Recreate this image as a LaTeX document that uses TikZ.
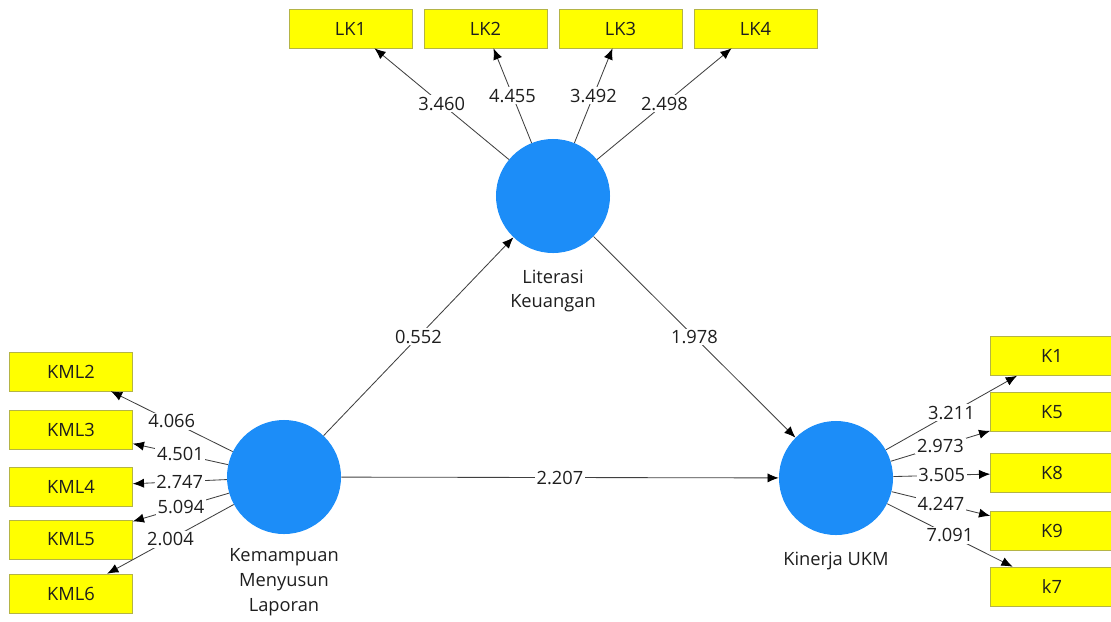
\documentclass[tikz,border=0pt]{standalone}
\usepackage{fontspec}
\setmainfont{Open Sans}
\usetikzlibrary{arrows.meta, positioning}

\definecolor{lvblue}{RGB}{28,141,248}
\definecolor{indyellow}{RGB}{255,255,0}
\definecolor{indborder}{RGB}{180,180,70}
\definecolor{txtgray}{RGB}{30,30,30}

\tikzset{
  latent/.style={circle, fill=lvblue, minimum size=2.85cm, inner sep=0pt},
  indicator/.style={rectangle, draw=indborder, fill=indyellow, minimum width=3.075cm,
    minimum height=0.975cm, inner sep=0pt, text=txtgray, font=\fontsize{13}{15}\selectfont},
  caption/.style={align=center, text=txtgray, font=\fontsize{13}{17.6}\selectfont},
  link/.style={draw=black!75, line width=0.6pt, -{Latex[length=2.8mm, width=2.3mm, color=black]}},
  coef/.style={fill=white, inner sep=1.2pt, text=txtgray, font=\fontsize{13}{15}\selectfont}
}

\begin{document}
\begin{tikzpicture}[x=0.025cm, y=-0.025cm]
        \useasboundingbox (0,0) rectangle (1111,621);
        % Draw latent variables
        \node[latent] (lk) at (553,196) {};
        \node[latent] (kml) at (284,477) {};
        \node[latent] (ukm) at (836,478) {};
        \node[caption] (lkname) at (553,291) {Literasi\\Keuangan};
        \node[caption] (kmlname) at (284,582) {Kemampuan\\Menyusun\\Laporan};
        \node[caption] (ukmname) at (836,561) {Kinerja UKM};
        % Draw indicators of Literasi Keuangan
        \foreach \name/\x/\val in {LK1/350.5/3.460, LK2/485.5/4.455, LK3/620.5/3.492, LK4/755.5/2.498} {
            \node[indicator] (\name) at (\x,28.5) {\name};
            \draw[link] (lk) -- node[coef] {\val} (\name);
        }
        % Draw indicators of Kemampuan Menyusun Laporan
        \foreach \name/\y/\val in {KML2/371.5/4.066, KML3/430/4.501, KML4/486.5/2.747, KML5/539.5/5.094, KML6/593.5/2.004} {
            \node[indicator] (\name) at (71,\y) {\name};
            \draw[link] (kml) -- node[coef] {\val} (\name);
        }
        % Draw indicators of Kinerja UKM
        \foreach \name/\y/\val in {K1/356/3.211, K5/412/2.973, K8/472.5/3.505, K9/531/4.247, k7/586.5/7.091} {
            \node[indicator] (\name) at (1052,\y) {\name};
            \draw[link] (ukm) -- node[coef] {\val} (\name);
        }
        % Draw structural paths
        \draw[link] (kml) -- node[coef] {0.552} (lk);
        \draw[link] (lk) -- node[coef] {1.978} (ukm);
        \draw[link] (kml) -- node[coef] {2.207} (ukm);
    \end{tikzpicture}
\end{document}
